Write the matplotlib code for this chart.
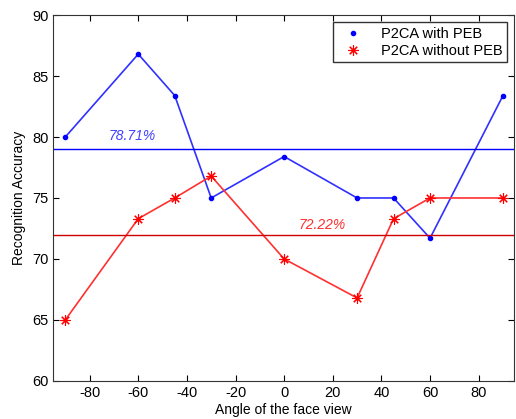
import matplotlib
matplotlib.use("Agg")
import matplotlib.pyplot as plt

plt.rcParams['font.family'] = ['Liberation Sans', 'DejaVu Sans']
plt.rcParams['axes.unicode_minus'] = False

angles = [-90, -60, -45, -30, 0, 30, 45, 60, 90]
with_peb = [80.0, 86.8, 83.4, 75.0, 78.4, 75.0, 75.0, 71.7, 83.4]
without_peb = [65.0, 73.3, 75.0, 76.8, 70.0, 66.8, 73.3, 75.0, 75.0]
mean_with = 79.0
mean_without = 71.95
label_with = '78.71%'
label_without = '72.22%'

fig = plt.figure(figsize=(5.16, 4.19), dpi=100)
ax = fig.add_axes([0.103, 0.091, 0.893, 0.873])

# matlab-style asterisk: plus and cross together
star = (8, 2, 0)

ax.plot(angles, with_peb, '-', color='#3030ff', lw=1.2)
ax.plot(angles, with_peb, '.', color='blue', ms=6, label='P2CA with PEB')
ax.plot(angles, without_peb, '-', color='#ff3030', lw=1.2)
ax.plot(angles, without_peb, ls='none', marker=star, color='red', mec='red', mew=0.8, ms=7.5,
        label='P2CA without PEB')
ax.axhline(mean_with, color='blue', lw=1)
ax.axhline(mean_without, color='#d00000', lw=1)
ax.text(-62.5, 80.1, label_with, color='#4040ff', style='italic', fontsize=10, ha='center', va='center')
ax.text(15.5, 72.8, label_without, color='#ff3030', style='italic', fontsize=10, ha='center', va='center')

ax.set_xlim(-95, 94.5)
ax.set_ylim(60, 90)
ax.set_xticks([-80, -60, -40, -20, 0, 20, 40, 60, 80])
ax.set_yticks([60, 65, 70, 75, 80, 85, 90])
ax.tick_params(direction='in', top=True, right=True, labelsize=10.5, length=4)
for s in ax.spines.values():
    s.set_color('#333333')
ax.set_xlabel('Angle of the face view', fontsize=10, labelpad=2)
ax.set_ylabel('Recognition Accuracy', fontsize=10, labelpad=4)

leg = ax.legend(loc='upper right', fontsize=10.5, fancybox=False, edgecolor='black',
                borderaxespad=0.5, handlelength=2.2, borderpad=0.3, labelspacing=0.2)
leg.get_frame().set_linewidth(1)

fig.savefig('out.png', dpi=100)
